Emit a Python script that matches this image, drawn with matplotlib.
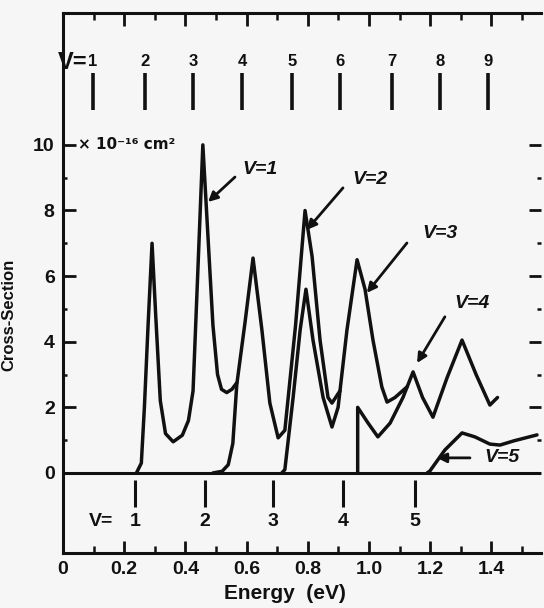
import matplotlib
matplotlib.use("Agg")
import matplotlib.pyplot as plt
import numpy as np

plt.rcParams['font.family'] = ['Liberation Sans', 'DejaVu Sans']

# Cross-section curves for each final vibrational level (energy in eV, sigma in 1e-16 cm^2)
v1_energy = [0.240, 0.256, 0.266, 0.278, 0.291, 0.303, 0.318, 0.335, 0.360, 0.390,
             0.410, 0.425, 0.440, 0.457, 0.472, 0.490, 0.505, 0.518, 0.535, 0.552, 0.568]
v1_sigma = [0.0, 0.3, 2.0, 4.5, 7.0, 4.8, 2.2, 1.2, 0.95, 1.15,
            1.6, 2.5, 6.0, 10.0, 7.5, 4.5, 3.0, 2.55, 2.45, 2.55, 2.75]

v2_energy = [0.490, 0.520, 0.540, 0.555, 0.568, 0.595, 0.621, 0.650, 0.676, 0.703,
             0.725, 0.760, 0.791, 0.814, 0.840, 0.866, 0.879, 0.905]
v2_sigma = [0.0, 0.05, 0.25, 0.9, 2.7, 4.6, 6.55, 4.36, 2.13, 1.07,
            1.3, 4.5, 8.0, 6.6, 4.05, 2.3, 2.13, 2.5]

v3_energy = [0.715, 0.725, 0.752, 0.775, 0.794, 0.817, 0.850, 0.879, 0.899, 0.928,
             0.961, 0.987, 1.013, 1.042, 1.059, 1.085, 1.125]
v3_sigma = [0.0, 0.1, 2.3, 4.36, 5.6, 4.05, 2.3, 1.4, 2.0, 4.36,
            6.5, 5.6, 4.05, 2.62, 2.16, 2.3, 2.63]

v4_energy = [0.963, 0.963, 0.997, 1.029, 1.069, 1.111, 1.144, 1.175, 1.209, 1.255,
             1.304, 1.350, 1.395, 1.420]
v4_sigma = [0.0, 2.0, 1.52, 1.1, 1.52, 2.3, 3.08, 2.3, 1.7, 2.9,
            4.05, 3.0, 2.07, 2.3]

v5_energy = [1.190, 1.199, 1.248, 1.304, 1.346, 1.395, 1.428, 1.474, 1.549]
v5_sigma = [0.0, 0.06, 0.70, 1.22, 1.10, 0.88, 0.85, 0.98, 1.16]

# Vibrational level positions marked along the top and along the energy axis
top_levels = [1, 2, 3, 4, 5, 6, 7, 8, 9]
top_level_energy = [0.098, 0.268, 0.425, 0.585, 0.748, 0.905, 1.075, 1.232, 1.389]
bottom_levels = [1, 2, 3, 4, 5]
bottom_level_energy = [0.235, 0.464, 0.686, 0.915, 1.150]

energy_ticks = [0.0, 0.2, 0.4, 0.6, 0.8, 1.0, 1.2, 1.4]
energy_tick_labels = ["0", "0.2", "0.4", "0.6", "0.8", "1.0", "1.2", "1.4"]
sigma_ticks = [0, 2, 4, 6, 8, 10]

# Curve labels: text, text position, arrow tail, arrow head
curve_labels = [
    ("V=1", (0.644, 9.24), (0.562, 9.02), (0.474, 8.26)),
    ("V=2", (1.003, 8.96), (0.915, 8.69), (0.797, 7.41)),
    ("V=3", (1.232, 7.29), (1.124, 7.01), (0.993, 5.49)),
    ("V=4", (1.337, 5.15), (1.248, 4.76), (1.157, 3.35)),
    ("V=5", (1.435, 0.46), (1.330, 0.46), (1.222, 0.46)),
]

W, H = 544, 608
fig = plt.figure(figsize=(W / 100, H / 100), dpi=100, facecolor='#f6f6f6')
ax = fig.add_axes([63 / W, 55 / H, (541 - 63) / W, 540 / H])
ax.set_facecolor('#f6f6f6')
ax.set_xlim(0, 478 / 306)
ax.set_ylim(-2.44, 14.02)

ink = '#111111'
lw = 2.5
for e, s in [(v1_energy, v1_sigma), (v2_energy, v2_sigma), (v3_energy, v3_sigma),
             (v4_energy, v4_sigma), (v5_energy, v5_sigma)]:
    ax.plot(e, s, color=ink, lw=lw, solid_joinstyle='round', solid_capstyle='round')

# zero line of the cross-section scale
ax.axhline(0, color=ink, lw=2.2)

for side in ['left', 'bottom', 'top']:
    ax.spines[side].set_linewidth(2.2)
    ax.spines[side].set_color(ink)
ax.spines['right'].set_visible(False)

ax.set_xticks(energy_ticks)
ax.set_xticklabels(energy_tick_labels)
ax.set_xticks(np.arange(0.1, 1.56, 0.2), minor=True)
ax.set_yticks(sigma_ticks)
ax.set_yticklabels([str(t) for t in sigma_ticks])
ax.set_yticks([1, 3, 5, 7, 9], minor=True)

ax.tick_params(axis='x', which='major', direction='in', top=True, bottom=True,
               length=9, width=2.0, color=ink, pad=6, labelsize=14)
ax.tick_params(axis='x', which='minor', direction='in', top=True, bottom=True,
               length=5, width=1.8, color=ink)
ax.tick_params(axis='y', which='major', direction='in', left=True, right=True,
               length=9, width=2.0, color=ink, pad=6, labelsize=14)
ax.tick_params(axis='y', which='minor', direction='in', left=True, right=True,
               length=3, width=1.8, color=ink)
for lab in ax.get_xticklabels() + ax.get_yticklabels():
    lab.set_fontweight('bold')
    lab.set_color(ink)

ax.set_xlabel("Energy  (eV)", fontsize=15, fontweight='bold', color=ink)
ax.xaxis.set_label_coords((285 - 63) / 478, -(584 - 553) / 540)
ax.set_ylabel("Cross-Section", fontsize=12, fontweight='bold', color=ink)
ax.yaxis.set_label_coords(-(63 - 16) / 478, (553 - 315) / 540)

ax.text(0.05, 10.0, "× 10⁻¹⁶ cm²", family=['DejaVu Sans'], fontsize=11,
        fontweight='bold', color=ink, ha='left', va='center')

# level markers along the top
ax.text(0.033, 12.5, "V=", fontsize=17, fontweight='bold', color=ink,
        ha='center', va='center')
ax.vlines(top_level_energy, 11.07, 12.2, color=ink, lw=2.6)
for v, e in zip(top_levels, top_level_energy):
    ax.text(e, 12.55, str(v), fontsize=12, fontweight='bold', color=ink,
            ha='center', va='center')

# level markers under the zero line
ax.vlines(bottom_level_energy, -1.04, -0.21, color=ink, lw=2.2)
for v, e in zip(bottom_levels, bottom_level_energy):
    ax.text(e, -1.49, str(v), fontsize=14, fontweight='bold', color=ink,
            ha='center', va='center')
ax.text(0.124, -1.49, "V=", fontsize=14, fontweight='bold', color=ink,
        ha='center', va='center')

for text, tpos, tail, head in curve_labels:
    ax.text(tpos[0], tpos[1], text, fontsize=14, fontweight='bold', style='italic',
            color=ink, ha='center', va='center')
    ax.annotate('', xy=head, xytext=tail,
                arrowprops=dict(arrowstyle='-|>', color=ink, lw=2.0,
                                mutation_scale=14, shrinkA=0, shrinkB=0))

fig.savefig("out.png", dpi=100, facecolor=fig.get_facecolor())
